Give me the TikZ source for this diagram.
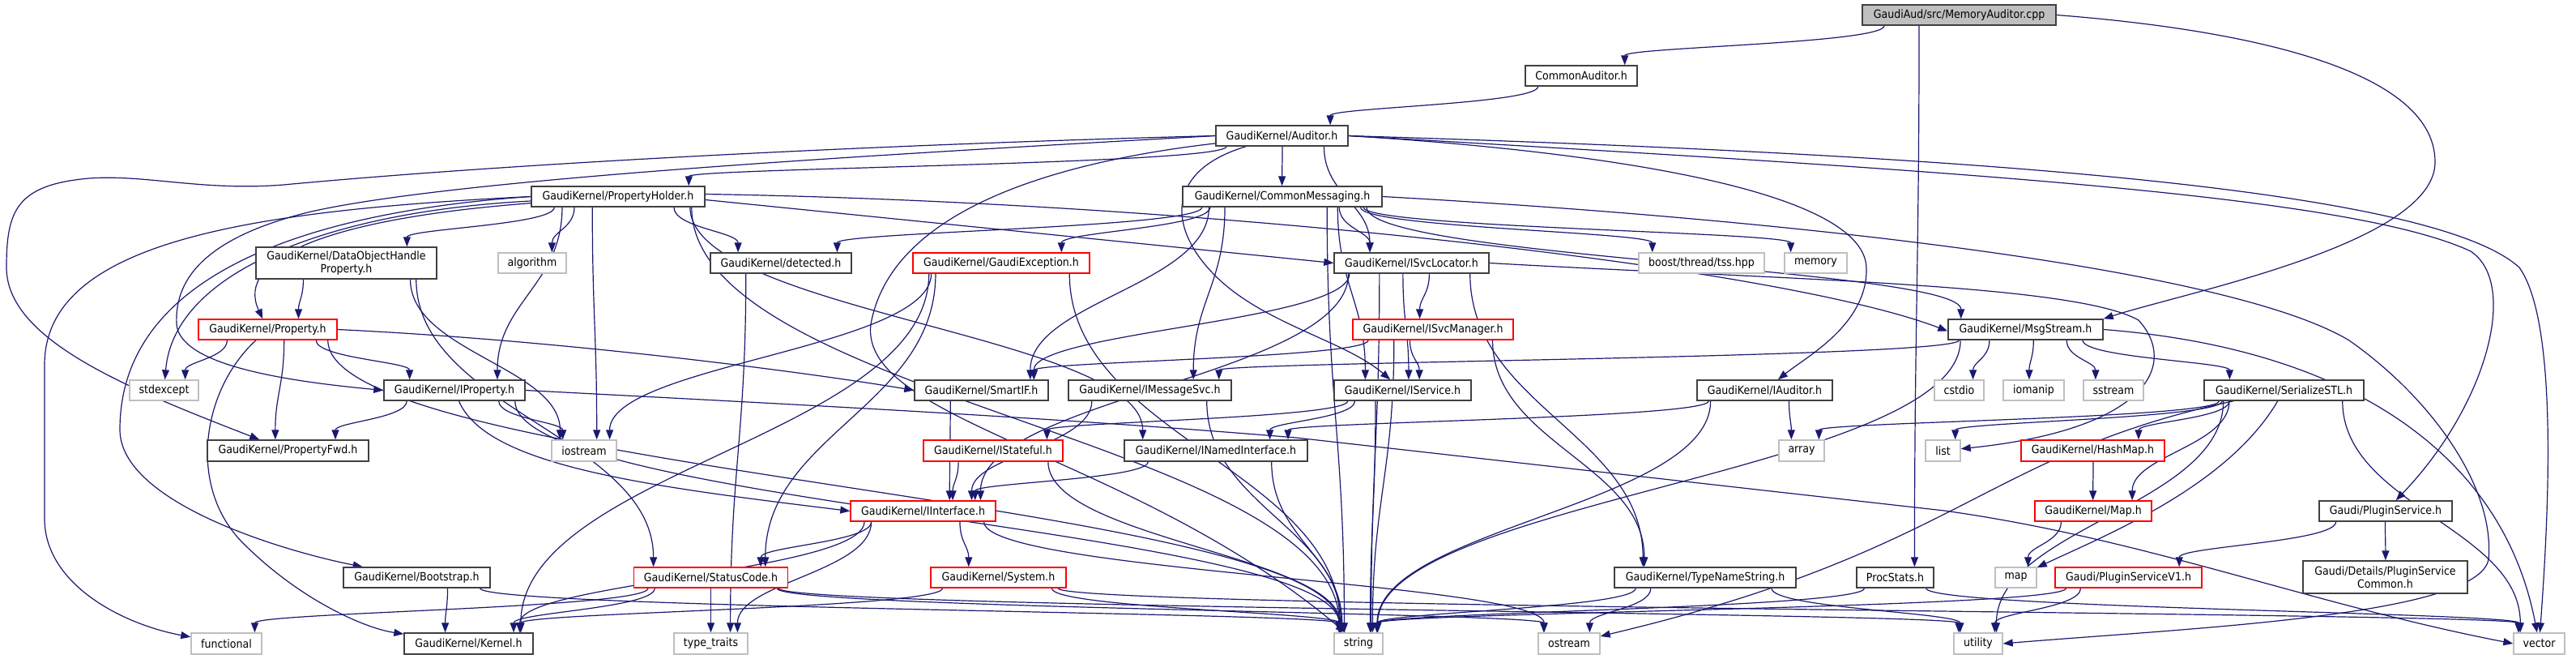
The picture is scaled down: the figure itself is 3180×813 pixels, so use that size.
\documentclass[tikz,border=0pt]{standalone}
\usepackage{fontspec}
\setmainfont{DejaVu Sans}[FakeStretch=0.9]
\usetikzlibrary{arrows.meta,calc}
\definecolor{edgec}{HTML}{191970}
\definecolor{grayb}{HTML}{BFBFBF}
\definecolor{redb}{HTML}{FF0000}
\definecolor{rootf}{HTML}{BFBFBF}
\definecolor{boxb}{HTML}{404040}
\pgfdeclarelayer{edges}
\pgfsetlayers{edges,main}
\newcommand\ed[2]{\draw[e] let \p1=(#1.center), \p2=(#2.center), \p3=(#1.south east), \p4=(#2.north east),
  \n5={1.2*(\x2-\x1)/(\x3-\x1)}, \n6={0.8*(\x1-\x2)/(\x4-\x2)},
  \n1={(\x3-\x1-8)*\n5/(1+abs(\n5))}, \n2={(\x4-\x2-6)*\n6/(1+abs(\n6))},
  \n3={0.45*(\y3-\y4)} in
  ({\x1+\n1},\y3) .. controls ({\x1+\n1},{\y3-\n3}) and ({\x2+\n2},{\y4+\n3}) .. ({\x2+\n2},\y4);}
\begin{document}
\begin{tikzpicture}[x=1pt,y=-1pt,
  every node/.style={inner sep=0pt, font=\fontsize{14}{16}\selectfont, align=center},
  nb/.style={draw=boxb, fill=white, line width=1.4pt},
  ng/.style={draw=grayb, fill=white, line width=1.4pt},
  nr/.style={draw=redb, fill=white, line width=1.4pt},
  nroot/.style={draw=boxb, fill=rootf, line width=1.4pt},
  e/.style={draw=edgec, line width=1.2pt, -{Triangle[length=12pt,width=9pt]}}]
\useasboundingbox (0,0) rectangle (3180,813);
% nodes
\node[nroot, minimum width=239pt, minimum height=25pt] (mem) at (2418.5,18.5) {GaudiAud/src/MemoryAuditor.cpp};
\node[nb, minimum width=138pt, minimum height=25pt] (comaud) at (1952,93.5) {CommonAuditor.h};
\node[nb, minimum width=163pt, minimum height=25pt] (auditor) at (1582.5,167.5) {GaudiKernel/Auditor.h};
\node[nb, minimum width=214pt, minimum height=25pt] (propholder) at (763,242.5) {GaudiKernel/PropertyHolder.h};
\node[nb, minimum width=246pt, minimum height=25pt] (commsg) at (1583,242.5) {GaudiKernel/CommonMessaging.h};
\node[nb, minimum width=223pt, minimum height=39pt] (dohp) at (427.5,324.5) {GaudiKernel/DataObjectHandle\\Property.h};
\node[ng, minimum width=84pt, minimum height=25pt] (algorithm) at (657,324.5) {algorithm};
\node[nb, minimum width=174pt, minimum height=25pt] (detected) at (964,324.5) {GaudiKernel/detected.h};
\node[nr, minimum width=218pt, minimum height=25pt] (gexc) at (1236,324.5) {GaudiKernel/GaudiException.h};
\node[nb, minimum width=191pt, minimum height=25pt] (isvcloc) at (1742.5,324.5) {GaudiKernel/ISvcLocator.h};
\node[ng, minimum width=155pt, minimum height=25pt] (boost) at (2100.5,324.5) {boost/thread/tss.hpp};
\node[ng, minimum width=77pt, minimum height=25pt] (memory) at (2241.5,324.5) {memory};
\node[nr, minimum width=171pt, minimum height=25pt] (property) at (330.5,406.5) {GaudiKernel/Property.h};
\node[nr, minimum width=198pt, minimum height=25pt] (isvcmgr) at (1769,406.5) {GaudiKernel/ISvcManager.h};
\node[nb, minimum width=191pt, minimum height=25pt] (msgstream) at (2500.5,406.5) {GaudiKernel/MsgStream.h};
\node[ng, minimum width=85pt, minimum height=25pt] (stdexcept) at (202.5,481.5) {stdexcept};
\node[nb, minimum width=174pt, minimum height=25pt] (iproperty) at (561,481.5) {GaudiKernel/IProperty.h};
\node[nb, minimum width=165pt, minimum height=25pt] (smartif) at (1211.5,481.5) {GaudiKernel/SmartIF.h};
\node[nb, minimum width=201pt, minimum height=25pt] (imsgsvc) at (1419.5,481.5) {GaudiKernel/IMessageSvc.h};
\node[nb, minimum width=169pt, minimum height=25pt] (iservice) at (1731.5,481.5) {GaudiKernel/IService.h};
\node[nb, minimum width=167pt, minimum height=25pt] (iauditor) at (2178.5,481.5) {GaudiKernel/IAuditor.h};
\node[ng, minimum width=61pt, minimum height=25pt] (cstdio) at (2418.5,481.5) {cstdio};
\node[ng, minimum width=75pt, minimum height=25pt] (iomanip) at (2510.5,481.5) {iomanip};
\node[ng, minimum width=74pt, minimum height=25pt] (sstream) at (2609,481.5) {sstream};
\node[nb, minimum width=197pt, minimum height=25pt] (serstl) at (2819.5,481.5) {GaudiKernel/SerializeSTL.h};
\node[nb, minimum width=199pt, minimum height=26pt] (propfwd) at (355.5,556) {GaudiKernel/PropertyFwd.h};
\node[ng, minimum width=80pt, minimum height=26pt] (iostream) at (721,556) {iostream};
\node[nr, minimum width=172pt, minimum height=26pt] (istateful) at (1226,556) {GaudiKernel/IStateful.h};
\node[nb, minimum width=226pt, minimum height=26pt] (inamed) at (1501,556) {GaudiKernel/INamedInterface.h};
\node[ng, minimum width=56pt, minimum height=26pt] (array) at (2224,556) {array};
\node[ng, minimum width=43pt, minimum height=26pt] (list) at (2398.5,556) {list};
\node[nr, minimum width=177pt, minimum height=26pt] (hashmap) at (2583.5,556) {GaudiKernel/HashMap.h};
\node[nr, minimum width=179pt, minimum height=25pt] (iinterface) at (1139.5,630.5) {GaudiKernel/IInterface.h};
\node[nr, minimum width=144pt, minimum height=25pt] (mapH) at (2584,630.5) {GaudiKernel/Map.h};
\node[nb, minimum width=164pt, minimum height=25pt] (pluginsvc) at (2945,630.5) {Gaudi/PluginService.h};
\node[nb, minimum width=181pt, minimum height=25pt] (bootstrap) at (514.5,712.5) {GaudiKernel/Bootstrap.h};
\node[nr, minimum width=190pt, minimum height=25pt] (statuscode) at (877.5,712.5) {GaudiKernel/StatusCode.h};
\node[nr, minimum width=167pt, minimum height=25pt] (system) at (1232.5,712.5) {GaudiKernel/System.h};
\node[nb, minimum width=224pt, minimum height=25pt] (typename) at (2105,712.5) {GaudiKernel/TypeNameString.h};
\node[nb, minimum width=95pt, minimum height=25pt] (procstats) at (2339.5,712.5) {ProcStats.h};
\node[ng, minimum width=51pt, minimum height=25pt] (map) at (2488.5,712.5) {map};
\node[nr, minimum width=181pt, minimum height=25pt] (pluginv1) at (2627.5,712.5) {Gaudi/PluginServiceV1.h};
\node[nb, minimum width=203pt, minimum height=40pt] (pscommon) at (2944.5,712) {Gaudi/Details/PluginService\\Common.h};
\node[ng, minimum width=87pt, minimum height=26pt] (functional) at (279.5,794) {functional};
\node[nb, minimum width=159pt, minimum height=26pt] (kernel) at (578.5,794) {GaudiKernel/Kernel.h};
\node[ng, minimum width=91pt, minimum height=26pt] (typetraits) at (877.5,794) {type\_traits};
\node[ng, minimum width=60pt, minimum height=26pt] (string) at (1677,794) {string};
\node[ng, minimum width=76pt, minimum height=26pt] (ostream) at (1937,794) {ostream};
\node[ng, minimum width=60pt, minimum height=26pt] (utility) at (2442,794) {utility};
\node[ng, minimum width=63pt, minimum height=26pt] (vector) at (3134.5,794) {vector};
% edges
\begin{pgfonlayer}{edges}
\ed{mem}{comaud}
\ed{mem}{procstats}
\draw[e] (mem.east) .. controls (2750,35) and (3006,80) .. (3006,200) .. controls (3006,300) and (2700,360) .. (msgstream.north east);
\ed{comaud}{auditor}
\ed{auditor}{propholder}
\ed{auditor}{commsg}
\ed{auditor}{isvcloc}
\draw[e] (auditor) .. controls (1440,210) and (1440,280) .. (1500,340) .. controls (1560,400) and (1660,420) .. (iservice);
\draw[e] (auditor.east) .. controls (1950,185) and (2300,230) .. (2304,330) .. controls (2306,400) and (2230,440) .. (iauditor);
\draw[e] (auditor.west) .. controls (1100,190) and (560,220) .. (380,262) .. controls (260,292) and (215,340) .. (218,400) .. controls (222,450) and (350,470) .. (iproperty.west);
\draw[e] (auditor.west) .. controls (1100,178) and (650,200) .. (350,228) .. controls (250,236) and (180,215) .. (110,220) .. controls (20,228) and (8,260) .. (8,330) .. controls (8,420) and (160,480) .. (propfwd);
\draw[e] (auditor.east) .. controls (2400,210) and (2900,240) .. (3050,310) .. controls (3110,350) and (3070,500) .. (pluginsvc);
\draw[e] (auditor.east) .. controls (2400,190) and (3000,230) .. (3110,330) .. controls (3160,400) and (3145,650) .. (vector);
\draw[e] (auditor) .. controls (1300,200) and (1100,260) .. (1075,400) .. controls (1060,520) and (1400,560) .. (string);
\ed{propholder}{dohp}
\ed{propholder}{algorithm}
\ed{propholder}{detected}
\ed{propholder}{iproperty}
\ed{propholder}{iostream}
\ed{propholder}{string}
\ed{propholder}{inamed}
\draw[e] ([yshift=-4pt]propholder.east) -- (isvcloc.west);
\draw[e] ([yshift=3pt]propholder.east) .. controls (1500,250) and (2200,330) .. ([yshift=-2pt]msgstream.west);
\draw[e] (propholder) .. controls (400,270) and (290,320) .. (property);
\draw[e] (propholder) .. controls (420,260) and (215,330) .. (stdexcept);
\draw[e] (propholder.west) .. controls (300,260) and (55,300) .. (55,450) -- (55,640) .. controls (55,720) and (150,770) .. (functional);
\draw[e] (propholder.west) .. controls (400,260) and (148,330) .. (148,530) .. controls (148,620) and (350,680) .. (bootstrap);
\ed{commsg}{detected}
\ed{commsg}{gexc}
\ed{commsg}{isvcloc}
\ed{commsg}{iservice}
\ed{commsg}{smartif}
\ed{commsg}{imsgsvc}
\ed{commsg}{msgstream}
\ed{commsg}{boost}
\ed{commsg}{memory}
\ed{commsg}{string}
\draw[e] (commsg.east) .. controls (2200,270) and (2750,330) .. (2900,420) .. controls (3000,490) and (3080,600) .. (3072,690) .. controls (3060,760) and (2700,775) .. (utility.east);
\ed{dohp}{property}
\ed{dohp}{iostream}
\ed{dohp}{statuscode}
\ed{gexc}{statuscode}
\ed{gexc}{kernel}
\ed{gexc}{iostream}
\ed{gexc}{string}
\ed{isvcloc}{isvcmgr}
\ed{isvcloc}{smartif}
\ed{isvcloc}{iinterface}
\ed{isvcloc}{iservice}
\ed{isvcloc}{typename}
\ed{isvcloc}{string}
\draw[e] (isvcloc.east) .. controls (2200,345) and (2560,350) .. (2640,395) .. controls (2690,450) and (2650,530) .. (list);
\ed{isvcmgr}{iservice}
\ed{isvcmgr}{smartif}
\ed{isvcmgr}{typename}
\ed{isvcmgr}{string}
\ed{property}{stdexcept}
\ed{property}{iproperty}
\ed{property}{propfwd}
\draw[e] (property) .. controls (250,480) and (230,600) .. (300,670) .. controls (370,740) and (450,775) .. (kernel);
\ed{property}{string}
\draw[e] (property.east) .. controls (700,420) and (1000,460) .. (smartif.west);
\ed{msgstream}{imsgsvc}
\ed{msgstream}{cstdio}
\ed{msgstream}{iomanip}
\ed{msgstream}{sstream}
\ed{msgstream}{serstl}
\ed{msgstream}{string}
\draw[e] (msgstream.east) .. controls (2900,430) and (3090,560) .. (vector);
\draw[e] (iproperty) .. controls (600,575) and (800,600) .. (iinterface.west);
\ed{iproperty}{propfwd}
\ed{iproperty}{iostream}
\ed{iproperty}{string}
\draw[e] (iproperty.east) .. controls (1000,500) and (1300,515) .. (1600,540) -- (2400,630) .. controls (2650,665) and (2850,745) .. (vector.west);
\ed{smartif}{iinterface}
\ed{imsgsvc}{iinterface}
\ed{imsgsvc}{string}
\ed{iservice}{inamed}
\ed{iservice}{istateful}
\ed{iservice}{string}
\ed{iauditor}{inamed}
\ed{iauditor}{array}
\ed{iauditor}{string}
\ed{serstl}{array}
\ed{serstl}{list}
\ed{serstl}{hashmap}
\ed{serstl}{mapH}
\draw[e] (serstl) .. controls (2750,600) and (2600,660) .. (map);
\ed{serstl}{utility}
\ed{serstl}{vector}
\draw[e] (serstl) .. controls (2450,560) and (2420,680) .. (ostream);
\ed{istateful}{iinterface}
\ed{istateful}{string}
\ed{inamed}{iinterface}
\ed{inamed}{string}
\ed{hashmap}{mapH}
\ed{mapH}{map}
\ed{pluginsvc}{pluginv1}
\ed{pluginsvc}{pscommon}
\ed{iinterface}{statuscode}
\ed{iinterface}{kernel}
\ed{iinterface}{system}
\ed{iinterface}{typetraits}
\ed{iinterface}{ostream}
\ed{bootstrap}{kernel}
\ed{bootstrap}{string}
\ed{statuscode}{functional}
\ed{statuscode}{kernel}
\ed{statuscode}{typetraits}
\ed{statuscode}{ostream}
\ed{statuscode}{utility}
\ed{system}{kernel}
\ed{system}{string}
\ed{system}{vector}
\ed{typename}{string}
\ed{typename}{ostream}
\ed{typename}{utility}
\ed{procstats}{string}
\ed{procstats}{vector}
\ed{pluginv1}{string}
\ed{pluginv1}{utility}
\ed{detected}{typetraits}
\end{pgfonlayer}
\end{tikzpicture}
\end{document}
